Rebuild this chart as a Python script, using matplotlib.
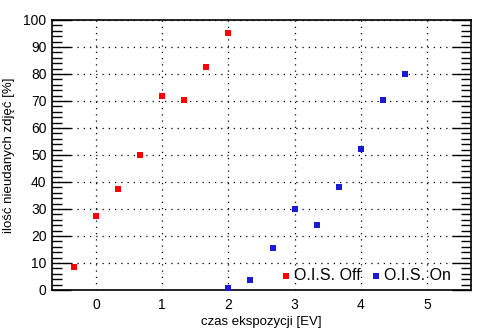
import matplotlib
matplotlib.use("Agg")
import matplotlib.pyplot as plt
from matplotlib.ticker import MultipleLocator

plt.rcParams['font.family'] = ['Liberation Sans', 'DejaVu Sans']

# czas ekspozycji [EV] vs procent nieudanych zdjec
ev_off = [-1/3, 0, 1/3, 2/3, 1, 4/3, 5/3, 2]
fail_off = [8.4, 27.3, 37.3, 50, 71.7, 70.3, 82.5, 95]
ev_on = [2, 7/3, 8/3, 3, 10/3, 11/3, 4, 13/3, 14/3]
fail_on = [0.9, 3.6, 15.4, 29.9, 24, 38, 52.1, 70.3, 79.9]

fig = plt.figure(figsize=(4.94, 3.31), dpi=100)
ax = fig.add_axes([0.1053, 0.1239, 0.8481, 0.8157])

ax.scatter(ev_off, fail_off, marker='s', s=20, color='#ff0000', label='O.I.S. Off', zorder=3, linewidths=0)
ax.scatter(ev_on, fail_on, marker='s', s=20, color='#1a1ad6', label='O.I.S. On', zorder=3, linewidths=0)

ax.set_xlim(-2/3, 5.667)
ax.set_ylim(0, 100)
ax.xaxis.set_major_locator(MultipleLocator(1))
ax.yaxis.set_major_locator(MultipleLocator(10))
ax.yaxis.set_minor_locator(MultipleLocator(2))

ax.tick_params(axis='x', length=0, pad=6, labelsize=10)
ax.tick_params(axis='y', which='major', direction='in', length=14, width=1,
               left=True, right=True, labelsize=10, pad=4)
ax.tick_params(axis='y', which='minor', direction='in', length=7, width=1,
               left=True, right=True)

ax.grid(True, which='major', color='black', linestyle=(0, (1, 4)), linewidth=0.9)
for sp in ax.spines.values():
    sp.set_linewidth(1.2)

ax.set_xlabel('czas ekspozycji [EV]', fontsize=9.5, labelpad=3)
ax.set_ylabel('ilość nieudanych zdjęć [%]', fontsize=9.5, labelpad=6)

ax.legend(loc='lower right', ncol=2, frameon=False, fontsize=11.5,
          handlelength=0.6, handletextpad=0.2, columnspacing=0.65, markerscale=1.0,
          bbox_to_anchor=(0.975, -0.01), borderaxespad=0.2)

fig.savefig('out.png', dpi=100)
